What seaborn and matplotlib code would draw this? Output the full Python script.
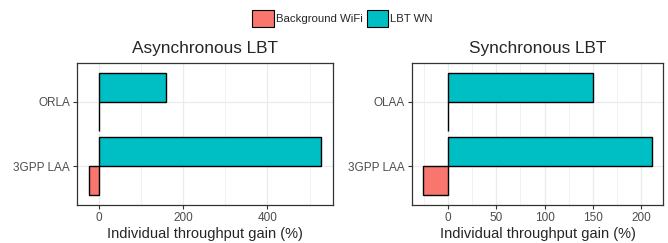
import matplotlib
matplotlib.use("Agg")
import matplotlib.pyplot as plt
import matplotlib.ticker as mticker
from matplotlib.patches import Patch
import seaborn as sns
import pandas as pd

# values
series = ["Background WiFi", "LBT WN"]
async_schemes = ["ORLA", "3GPP LAA"]
async_wifi = [0, -24.6]
async_lbt = [159, 528]
sync_schemes = ["OLAA", "3GPP LAA"]
sync_wifi = [0, -25.7]
sync_lbt = [150, 211]

colors = {"Background WiFi": "#F8766D", "LBT WN": "#00BFC4"}

sns.set_style("white")
plt.rcParams["font.family"] = ["Liberation Sans", "DejaVu Sans"]


def make_df(schemes, wifi, lbt):
    rows = []
    for s, w, l in zip(schemes, wifi, lbt):
        rows.append({"scheme": s, "type": "Background WiFi", "gain": w})
        rows.append({"scheme": s, "type": "LBT WN", "gain": l})
    return pd.DataFrame(rows)


fig = plt.figure(figsize=(6.68, 2.43), dpi=100)
ax1 = fig.add_axes([0.1153, 0.1564, 0.3832, 0.5844])
ax2 = fig.add_axes([0.6163, 0.1564, 0.3766, 0.5844])

panels = [
    (ax1, "Asynchronous LBT", async_schemes, async_wifi, async_lbt, 200, 100),
    (ax2, "Synchronous LBT", sync_schemes, sync_wifi, sync_lbt, 50, 25),
]

for ax, title, schemes, wifi, lbt, major, minor in panels:
    df = make_df(schemes, wifi, lbt)
    sns.barplot(data=df, x="gain", y="scheme", hue="type", order=schemes,
                hue_order=["LBT WN", "Background WiFi"], palette=colors,
                saturation=1, orient="h", width=0.9, edgecolor="black",
                linewidth=1.0, errorbar=None, ax=ax, zorder=3)
    ax.get_legend().remove()

    lo = min(min(wifi), min(lbt), 0)
    hi = max(max(wifi), max(lbt), 0)
    pad = (hi - lo) * 0.05
    ax.set_xlim(lo - pad, hi + pad)
    ax.set_ylim(len(schemes) - 0.4, -0.6)

    ax.xaxis.set_major_locator(mticker.MultipleLocator(major))
    ax.xaxis.set_minor_locator(mticker.MultipleLocator(minor))
    ax.grid(True, which="major", color="#EBEBEB", lw=0.9, zorder=0)
    ax.grid(True, which="minor", axis="x", color="#EBEBEB", lw=0.5, zorder=0)
    ax.set_axisbelow(True)

    for sp in ax.spines.values():
        sp.set_color("#333333")
        sp.set_linewidth(0.9)
    ax.tick_params(axis="both", which="major", length=3, width=0.8,
                   color="#333333", labelcolor="#4D4D4D", labelsize=8.5, pad=2,
                   bottom=True, left=True)
    ax.tick_params(axis="x", which="minor", length=0)

    ax.set_title(title, fontsize=12.4, pad=7)
    ax.set_xlabel("Individual throughput gain (%)", fontsize=10.5, labelpad=2)
    ax.set_ylabel("")

handles = [Patch(facecolor=colors[s], edgecolor="black", lw=0.8) for s in series]
fig.legend(handles, series, loc="upper center", bbox_to_anchor=(0.513, 0.985),
           ncol=2, frameon=False, fontsize=8.2, handlelength=1.9,
           handleheight=1.8, handletextpad=0.2, columnspacing=0.3,
           borderaxespad=0.2)

fig.savefig("out.png", dpi=100)
